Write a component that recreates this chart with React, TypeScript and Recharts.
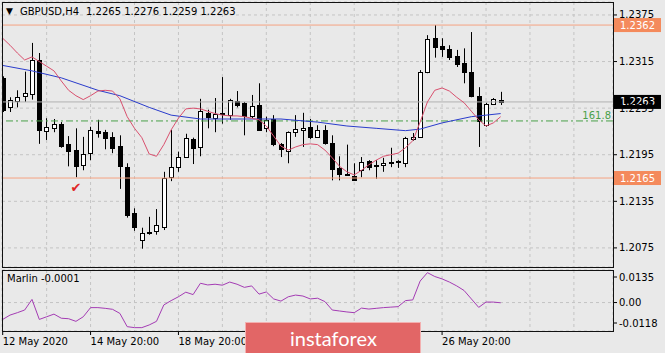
import React from "react"
import { Bar, CartesianGrid, ComposedChart, Line, ReferenceDot, ReferenceLine, XAxis, YAxis } from "recharts"

const FONT = "'DejaVu Sans', sans-serif"
const BG = "#e9e9e9"

// GBPUSD H4 candles
const open = [
  1.2294, 1.2256, 1.2264, 1.2271, 1.2273, 1.2317, 1.2226, 1.2229, 1.2235, 1.2209,
  1.2201, 1.2182, 1.2197, 1.2226, 1.2224, 1.2218, 1.2206, 1.2179, 1.212, 1.2085,
  1.2096, 1.2097, 1.2102, 1.2166, 1.2179, 1.2192, 1.2215, 1.2205, 1.2249, 1.2242,
  1.2248, 1.2246, 1.2264, 1.2262, 1.2245, 1.2259, 1.2229, 1.2241, 1.2209, 1.22,
  1.2224, 1.2227, 1.2231, 1.2218, 1.2227, 1.221, 1.2178, 1.217, 1.2168, 1.2175,
  1.2187, 1.2182, 1.2182, 1.2184, 1.2186, 1.2184, 1.2215, 1.2218, 1.2302, 1.2345,
  1.2335, 1.2331, 1.2322, 1.2313, 1.2302, 1.2271, 1.2233, 1.226, 1.2265,
]
const high = [
  1.2296, 1.2269, 1.2278, 1.2302, 1.2339, 1.2326, 1.2242, 1.2241, 1.2237, 1.2219,
  1.2229, 1.2218, 1.2231, 1.224, 1.2227, 1.2224, 1.222, 1.2184, 1.2126, 1.2101,
  1.2115, 1.2125, 1.2173, 1.2227, 1.2199, 1.2222, 1.2217, 1.2267, 1.2253, 1.2268,
  1.2295, 1.2267, 1.2277, 1.2263, 1.2272, 1.2287, 1.2244, 1.2246, 1.221, 1.2225,
  1.2246, 1.2249, 1.2241, 1.2233, 1.2233, 1.222, 1.2193, 1.2208, 1.2184, 1.2192,
  1.2188, 1.2188, 1.2191, 1.2204, 1.2188, 1.2218, 1.2223, 1.2304, 1.2349, 1.2362,
  1.2345, 1.2336, 1.233, 1.2332, 1.2353, 1.2282, 1.2262, 1.2268, 1.2276,
]
const low = [
  1.225, 1.225, 1.2256, 1.2263, 1.2266, 1.2209, 1.2214, 1.2224, 1.2204, 1.218,
  1.2166, 1.2175, 1.2188, 1.2217, 1.2202, 1.2197, 1.2151, 1.2114, 1.2097, 1.2074,
  1.2092, 1.2092, 1.2098, 1.2161, 1.2173, 1.2191, 1.2183, 1.2193, 1.2229, 1.2224,
  1.2235, 1.224, 1.2256, 1.222, 1.2242, 1.2226, 1.2224, 1.2206, 1.2192, 1.2184,
  1.2218, 1.2205, 1.2215, 1.2217, 1.2208, 1.2162, 1.2162, 1.2168, 1.2162, 1.2166,
  1.2175, 1.2164, 1.2173, 1.2179, 1.2178, 1.2179, 1.2213, 1.2217, 1.23, 1.232,
  1.2321, 1.2317, 1.2308, 1.2287, 1.2269, 1.2205, 1.2231, 1.2259, 1.2259,
]
const close = [
  1.2253, 1.2266, 1.2269, 1.2275, 1.2317, 1.2227, 1.2231, 1.2235, 1.2206, 1.22,
  1.218, 1.2196, 1.2227, 1.2223, 1.2217, 1.2204, 1.218, 1.2117, 1.2102, 1.2094,
  1.2095, 1.2105, 1.2165, 1.2179, 1.2192, 1.2217, 1.2204, 1.2251, 1.2244, 1.2248,
  1.2249, 1.2266, 1.2259, 1.2245, 1.2258, 1.2227, 1.224, 1.2209, 1.2202, 1.2224,
  1.2228, 1.2229, 1.2218, 1.2227, 1.221, 1.2177, 1.217, 1.2169, 1.2163, 1.2186,
  1.2179, 1.218, 1.2184, 1.2186, 1.2187, 1.2217, 1.2218, 1.2302, 1.2344, 1.2334,
  1.2331, 1.2321, 1.2312, 1.2302, 1.2271, 1.2238, 1.226, 1.2267, 1.2263,
]

// fast MA (red), one value per bar
const redMa = [
  1.2345, 1.2336, 1.2326, 1.2317, 1.2321, 1.2315, 1.2309, 1.2303, 1.229, 1.2278,
  1.2271, 1.2266, 1.2271, 1.2277, 1.2278, 1.2277, 1.2267, 1.2244, 1.2229, 1.2217,
  1.2196, 1.2193, 1.2208, 1.2227, 1.2242, 1.2254, 1.2255, 1.2254, 1.2251, 1.2248,
  1.2246, 1.2245, 1.2245, 1.2244, 1.2242, 1.224, 1.2232, 1.2219, 1.2206, 1.2201,
  1.2205, 1.2208, 1.2209, 1.2208, 1.2201, 1.2191, 1.218, 1.2173, 1.2169, 1.2175,
  1.2182, 1.2188, 1.2193, 1.2195, 1.2197, 1.2204, 1.2213, 1.2237, 1.2263, 1.2278,
  1.2281, 1.2277, 1.2269, 1.2262, 1.2251, 1.224, 1.2232, 1.2236, 1.2244,
]
// slow MA (blue), [bar, value]
const blueMa = [
  [0, 1.231], [4, 1.2303], [8, 1.2294], [13, 1.2278], [16, 1.2271], [20, 1.2256],
  [23, 1.2246], [27, 1.2241], [34, 1.2241], [38, 1.2241], [43, 1.2237], [47, 1.2232],
  [51, 1.2229], [55, 1.2226], [57, 1.2228], [60, 1.2236], [64, 1.2244], [66, 1.2246],
  [68, 1.2248],
]
const marlin = [
  -0.007, -0.0052, -0.0042, -0.0031, 0.0013, -0.007, -0.0059, -0.0048, -0.0065, -0.0067,
  -0.0078, -0.0059, -0.0021, -0.0021, -0.0024, -0.0028, -0.0045, -0.01, -0.0104, -0.0104,
  -0.0093, -0.0078, -0.001, 0.0008, 0.0024, 0.0043, 0.0033, 0.008, 0.0073, 0.0076,
  0.0072, 0.0085, 0.0076, 0.0063, 0.0069, 0.0035, 0.0044, 0.0015, 0.0006, 0.0024,
  0.0031, 0.0027, 0.0015, 0.0018, 0.0004, -0.0031, -0.0035, -0.0039, -0.0042, -0.0023,
  -0.0027, -0.0024, -0.0021, -0.0019, -0.0017, 0.0008, 0.0011, 0.0089, 0.0124, 0.0108,
  0.0098, 0.0085, 0.0069, 0.005, 0.0015, -0.002, 0.0002, 0.0002, -0.0001,
]

const priceTicks = [1.2075, 1.2135, 1.2195, 1.2255, 1.2315, 1.2375]
const marlinTicks = [-0.0118, 0, 0.0135]
const gridTicks = [0, 6, 12, 18, 24, 30, 36, 42, 48, 54, 60, 66, 72, 78]
const timeLabels: Record<number, string> = {
  0: "12 May 2020",
  12: "14 May 20:00",
  24: "18 May 20:00",
  60: "26 May 20:00",
}
const resistance = 1.2362
const support = 1.2165
const fib = 1.22385
const bid = 1.2263
const checkMark = { i: 10, price: 1.2153 }

const X_DOMAIN = [-0.0956, 83.34]
const PRICE_DOMAIN = [1.20504, 1.23917]
const MARLIN_DOMAIN = [-0.0118, 0.0135]

const candles = open.map((o, i) => ({ i, o, h: high[i], l: low[i], c: close[i] }))
const redData = redMa.map((v, i) => ({ i, v }))
const blueData = blueMa.map(([i, v]) => ({ i, v }))
const marlinData = marlin.map((v, i) => ({ i, v }))

function Candle(p: any) {
  const { x, y, width, height, payload } = p
  const top = Math.min(y, y + height)
  const bot = Math.max(y, y + height)
  const toY = (v: number) => top + ((payload.h - v) / (payload.h - payload.l)) * (bot - top)
  const cx = Math.round(x + width / 2) + 0.5
  const yo = toY(payload.o)
  const yc = toY(payload.c)
  const bt = Math.round(Math.min(yo, yc)) + 0.5
  const bb = Math.max(Math.round(Math.max(yo, yc)) + 0.5, bt + 1)
  return (
    <g>
      <line x1={cx} x2={cx} y1={top} y2={bot} stroke="#000" />
      <rect x={cx - 2} y={bt} width={4} height={bb - bt} fill={payload.c >= payload.o ? "#fff" : "#000"} stroke="#000" />
    </g>
  )
}

function PriceTick({ x, y, payload }: any) {
  return (
    <g>
      <line x1={x} x2={x + 4} y1={y} y2={y} stroke="#000" />
      <text x={x + 6} y={y + 3.5} fontSize={10} fontFamily={FONT} fill="#000">
        {payload.value.toFixed(4)}
      </text>
    </g>
  )
}

function MarlinTick({ x, y, payload }: any) {
  const v = payload.value
  const yy = v > 0 ? y + 7 : v < 0 ? y - 8 : y
  return (
    <g>
      <line x1={x} x2={x + 4} y1={yy} y2={yy} stroke="#000" />
      <text x={x + 6} y={yy + 3.5} fontSize={10} fontFamily={FONT} fill="#000">
        {v === 0 ? "0.00" : v.toFixed(4)}
      </text>
    </g>
  )
}

function TimeTick({ x, y, payload }: any) {
  const label = timeLabels[payload.value]
  if (!label) return <g />
  return (
    <g>
      <line x1={x} x2={x} y1={y} y2={y + 4} stroke="#000" />
      <text x={x} y={y + 14} fontSize={10} fontFamily={FONT} fill="#000">
        {label}
      </text>
    </g>
  )
}

function priceBox(text: string, bg: string) {
  return (p: any) => {
    const { x, y, width } = p.viewBox
    const lx = x + width + 1
    return (
      <g>
        <rect x={lx} y={y - 7} width={47} height={14} fill={bg} />
        <text x={lx + 6} y={y + 3.5} fontSize={10} fontFamily={FONT} fill="#fff">
          {text}
        </text>
      </g>
    )
  }
}

function fibLabel(p: any) {
  const { x, y, width } = p.viewBox
  return (
    <text x={x + width - 2} y={y - 2} textAnchor="end" fontSize={10} fontFamily={FONT} fill="#4aa04a">
      161.8
    </text>
  )
}

const abs = (s: React.CSSProperties): React.CSSProperties => ({ position: "absolute", ...s })

export default function App() {
  return (
    <div style={abs({ left: 0, top: 0, width: 665, height: 353, background: BG, overflow: "hidden", fontFamily: FONT })}>
      <div style={abs({ left: 0, top: 0 })}>
        <ComposedChart width={665} height={268} data={candles} margin={{ top: 2, right: 0, bottom: 1, left: 2 }}>
          <CartesianGrid stroke="#c4c4c4" strokeDasharray="3 3" />
          <XAxis dataKey="i" type="number" domain={X_DOMAIN} ticks={gridTicks} hide allowDataOverflow />
          <YAxis
            orientation="right"
            width={52}
            domain={PRICE_DOMAIN}
            ticks={priceTicks}
            allowDataOverflow
            axisLine={false}
            tickLine={false}
            tickSize={0}
            tickMargin={0}
            interval={0}
            tick={<PriceTick />}
          />
          <ReferenceLine y={bid} stroke="#b2b2b2" label={priceBox("1.2263", "#000")} />
          <ReferenceLine y={resistance} stroke="#f5a282" label={priceBox("1.2362", "#f48a5c")} />
          <ReferenceLine y={support} stroke="#f5a282" label={priceBox("1.2165", "#f48a5c")} />
          <ReferenceLine y={fib} stroke="#4aa04a" strokeDasharray="7 3 2 3" label={fibLabel} />
          <Bar dataKey={(d: any) => [d.l, d.h]} barSize={5} shape={(p: any) => <Candle {...p} />} isAnimationActive={false} />
          <Line data={blueData} dataKey="v" stroke="#2a3ccc" strokeWidth={1} dot={false} isAnimationActive={false} />
          <Line data={redData} dataKey="v" stroke="#d9506e" strokeWidth={1} dot={false} isAnimationActive={false} />
          <ReferenceDot
            x={checkMark.i}
            y={checkMark.price}
            shape={(p: any) => (
              <text x={p.cx} y={p.cy + 5} textAnchor="middle" fontSize={13} fontFamily={FONT} fill="#e02424">
                ✔
              </text>
            )}
          />
        </ComposedChart>
      </div>
      <div style={abs({ left: 0, top: 268 })}>
        <ComposedChart width={665} height={85} data={marlinData} margin={{ top: 2, right: 0, bottom: 0, left: 2 }}>
          <CartesianGrid stroke="#c4c4c4" strokeDasharray="3 3" />
          <XAxis
            dataKey="i"
            type="number"
            domain={X_DOMAIN}
            ticks={gridTicks}
            allowDataOverflow
            height={22}
            axisLine={false}
            tickLine={false}
            tickSize={0}
            tickMargin={0}
            interval={0}
            tick={<TimeTick />}
          />
          <YAxis
            orientation="right"
            width={52}
            domain={MARLIN_DOMAIN}
            ticks={marlinTicks}
            allowDataOverflow
            axisLine={false}
            tickLine={false}
            tickSize={0}
            tickMargin={0}
            interval={0}
            tick={<MarlinTick />}
          />
          <Line dataKey="v" stroke="#a43cb4" strokeWidth={1} dot={false} isAnimationActive={false} />
        </ComposedChart>
      </div>

      {/* panel frames */}
      <div style={abs({ left: 2, top: 2, width: 612, height: 266, boxSizing: "border-box", border: "1px solid #111" })} />
      <div style={abs({ left: 2, top: 270, width: 612, height: 62, boxSizing: "border-box", border: "1px solid #111" })} />

      {/* captions */}
      <div style={abs({ left: 6, top: 5, fontSize: 9, lineHeight: "12px", color: "#000" })}>▼</div>
      <div style={abs({ left: 20, top: 6, fontSize: 10, lineHeight: "12px", color: "#000", whiteSpace: "pre" })}>GBPUSD,H4</div>
      <div style={abs({ left: 86, top: 6, fontSize: 10, lineHeight: "12px", color: "#000", whiteSpace: "pre" })}>
        1.2265 1.2276 1.2259 1.2263
      </div>
      <div style={abs({ left: 7, top: 273, fontSize: 10, lineHeight: "12px", color: "#000", whiteSpace: "pre" })}>
        Marlin -0.0001
      </div>

      {/* watermark */}
      <div
        style={abs({
          left: 245,
          top: 322,
          width: 176,
          height: 40,
          boxSizing: "border-box",
          background: "#e26666",
          borderTop: "1px solid #f3b0b0",
          borderLeft: "1px solid #f3b0b0",
          borderRight: "1px solid #f3b0b0",
        })}
      >
        <div style={abs({ left: 44, top: 2, fontFamily: "Lato, sans-serif", fontSize: 20, lineHeight: "26px", color: "#fff" })}>
          instaforex
        </div>
      </div>
    </div>
  )
}
